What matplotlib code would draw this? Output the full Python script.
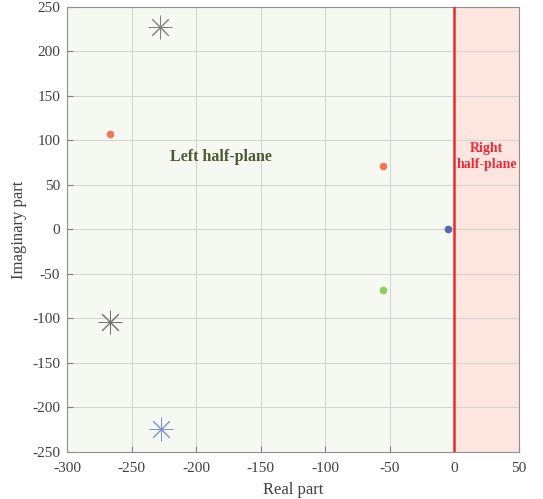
import numpy as np
import matplotlib
matplotlib.use("Agg")
import matplotlib.pyplot as plt

plt.rcParams['font.family'] = ['Liberation Serif', 'DejaVu Serif']
plt.rcParams['axes.unicode_minus'] = False

# poles shown as stars
star_re = [-228, -267, -227]
star_im = [227, -104, -224]
star_colors = ['#808080', '#707070', '#8090cc']

# poles shown as dots
dot_re = [-267, -55, -55, -5]
dot_im = [107, 71, -68, 0]
dot_colors = ['#f07858', '#f07858', '#8ccf5c', '#5868b0']

xticks = np.arange(-300, 51, 50)
yticks = np.arange(-250, 251, 50)

fig = plt.figure(figsize=(5.43, 4.99), dpi=100)
ax = fig.add_axes([0.1234, 0.0942, 0.8324, 0.8918])

ax.axvspan(-300, 0, color='#f6f8f2', zorder=0)
ax.axvspan(0, 50, color='#fde6df', zorder=0)
ax.grid(True, color='#d4d4d4', lw=0.8, zorder=1)
ax.set_axisbelow(True)

ax.axvline(0, color='#ee2a2a', lw=1.8, zorder=3)

for x, y, c in zip(star_re, star_im, star_colors):
    ax.plot(x, y, marker=(8, 2, 0), ms=17, mew=0.7, color=c, ls='none', zorder=4)
for x, y, c in zip(dot_re, dot_im, dot_colors):
    ax.plot(x, y, marker='o', ms=4.5, color=c, ls='none', zorder=4)

ax.text(-181, 82, 'Left half-plane', fontsize=11.5, fontweight='bold',
        color='#4b5a30', ha='center', va='center', zorder=5)
ax.text(25, 82, 'Right\nhalf-plane', fontsize=10, fontweight='bold',
        color='#ee2a3a', ha='center', va='center', linespacing=1.3, zorder=5)

ax.set_xlim(-300, 50)
ax.set_ylim(-250, 250)
ax.set_xticks(xticks)
ax.set_yticks(yticks)
ax.tick_params(direction='in', length=4, color='#808080', labelcolor='#404040',
               labelsize=11, pad=5)
ax.tick_params(axis='x', pad=7)
for s in ax.spines.values():
    s.set_color('#909090')
    s.set_linewidth(0.8)

ax.set_xlabel('Real part', fontsize=12, color='#404040', labelpad=5)
ax.set_ylabel('Imaginary part', fontsize=12, color='#404040', labelpad=4)

fig.savefig('out.png', dpi=100)
